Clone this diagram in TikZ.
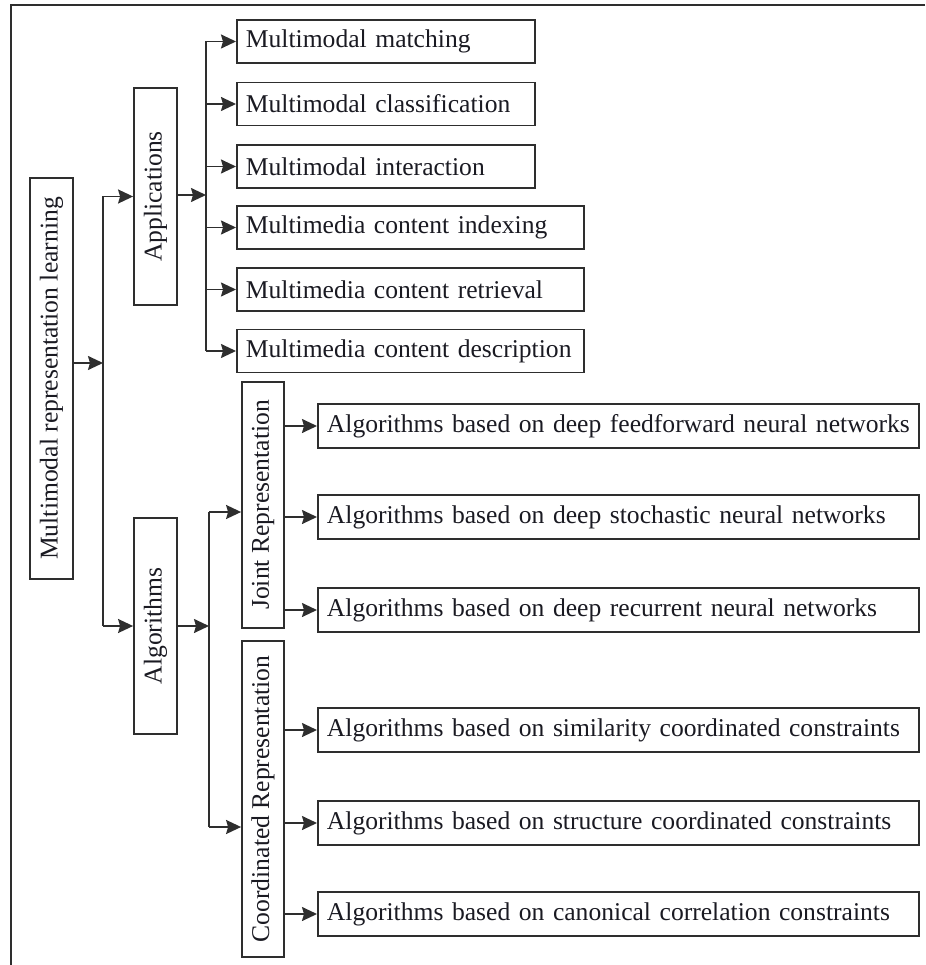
\documentclass[tikz,border=0pt]{standalone}
\usepackage{fontspec}
\setmainfont{Liberation Serif}
\usetikzlibrary{arrows.meta}
\definecolor{ln}{HTML}{2E2E2E}
\definecolor{tx}{HTML}{1A1A22}
\begin{document}
\begin{tikzpicture}[x=1pt,y=-1pt,
  every node/.style={font=\fontsize{25.6}{30}\selectfont, text=tx},
  vbox/.style={draw=ln, line width=1.8pt, inner sep=0pt, minimum width=43pt},
  leaf/.style={draw=ln, line width=1.8pt, anchor=west, inner xsep=9pt, inner ysep=0pt,
    minimum height=43pt, align=left},
  arr/.style={draw=ln, line width=1.8pt, -{Stealth[length=15pt,width=14pt,inset=2pt]}},
  ln/.style={draw=ln, line width=1.8pt}]
\useasboundingbox (0,0) rectangle (925,965);
% outer frame (top and left edges)
\draw[ln] (925,5) -- (11,5) -- (11,965);

% vertical boxes
\node[vbox, minimum height=401pt] (main) at (51.5,378.5) {\rotatebox{90}{Multimodal representation learning}};
\node[vbox, minimum height=217pt] (apps) at (155.5,196.5) {\rotatebox{90}{Applications}};
\node[vbox, minimum height=216pt] (algs) at (155.5,626) {\rotatebox{90}{Algorithms}};
\node[vbox, minimum width=42pt, minimum height=246pt] (joint) at (263,505) {\rotatebox{90}{Joint Representation}};
\node[vbox, minimum width=42pt, minimum height=316pt] (coord) at (263,799) {\rotatebox{90}{Coordinated Representation}};

% application leaves
\node[leaf, text width=280pt] (a1) at (236,41.5) {\mbox{Multimodal matching}};
\node[leaf, text width=280pt] (a2) at (236,104) {\mbox{Multimodal classification}};
\node[leaf, text width=280pt] (a3) at (236,166.5) {\mbox{Multimodal interaction}};
\node[leaf, text width=329pt] (a4) at (236,227.5) {\mbox{Multimedia content indexing}};
\node[leaf, text width=329pt] (a5) at (236,289.5) {\mbox{Multimedia content retrieval}};
\node[leaf, text width=329pt] (a6) at (236,351) {\mbox{Multimedia content description}};

% algorithm leaves
\node[leaf, text width=583pt, minimum height=44pt] (b1) at (317,426) {\mbox{Algorithms based on deep feedforward neural networks}};
\node[leaf, text width=583pt, minimum height=44pt] (b2) at (317,517) {\mbox{Algorithms based on deep stochastic neural networks}};
\node[leaf, text width=583pt, minimum height=44pt] (b3) at (317,610) {\mbox{Algorithms based on deep recurrent neural networks}};
\node[leaf, text width=583pt, minimum height=44pt] (c1) at (317,730) {\mbox{Algorithms based on similarity coordinated constraints}};
\node[leaf, text width=583pt, minimum height=44pt] (c2) at (317,823) {\mbox{Algorithms based on structure coordinated constraints}};
\node[leaf, text width=583pt, minimum height=44pt] (c3) at (317,914) {\mbox{Algorithms based on canonical correlation constraints}};

% junction points
\coordinate (j0) at (103,363);
\coordinate (j1) at (206,195);
\coordinate (j2) at (209,626);
\coordinate (jj) at (209,512);
\coordinate (jc) at (209,827);

% main -> applications / algorithms
\draw[arr] (main.east |- j0) -- (j0);
\draw[ln] (j0 |- apps) -- (j0 |- algs);
\draw[arr] (j0 |- apps) -- (apps.west);
\draw[arr] (j0 |- algs) -- (algs.west);

% applications fan
\draw[arr] (apps.east |- j1) -- (j1);
\draw[ln] (j1 |- a1) -- (j1 |- a6);
\foreach \n in {a1,a2,a3,a4,a5,a6} \draw[arr] (j1 |- \n) -- (\n.west);

% algorithms fan
\draw[arr] (algs.east) -- (j2);
\draw[ln] (jj) -- (jc);
\draw[arr] (jj) -- (joint.west |- jj);
\draw[arr] (jc) -- (coord.west |- jc);

% representation leaves
\foreach \n in {b1,b2,b3} \draw[arr] (joint.east |- \n) -- (\n.west);
\foreach \n in {c1,c2,c3} \draw[arr] (coord.east |- \n) -- (\n.west);
\end{tikzpicture}
\end{document}
